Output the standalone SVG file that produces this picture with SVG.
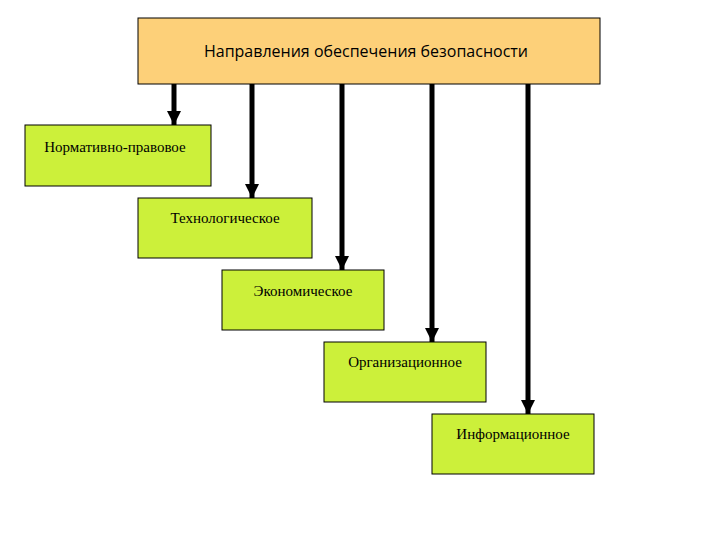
<svg xmlns="http://www.w3.org/2000/svg" width="720" height="540" viewBox="0 0 720 540">
<style>
.n{fill:#CCF03A;stroke:#000;stroke-width:1}
.t{font-family:"Liberation Serif",serif;font-size:15px;fill:#000;text-anchor:middle}
.c line{stroke:#000;stroke-width:5}
</style>
<defs><marker id="a" markerUnits="userSpaceOnUse" markerWidth="16" markerHeight="14" refX="14" refY="7" orient="auto"><path d="M0,0L14,7L0,14z" fill="#000"/></marker></defs>
<rect width="720" height="540" fill="#fff"/>
<g id="top"><rect x="138" y="18" width="462" height="66" fill="#FDD079" stroke="#000"/><text x="366" y="57" font-family="Open Sans,sans-serif" font-size="16" text-anchor="middle">Направления обеспечения безопасности</text></g>
<g class="c">
<line x1="174" y1="84" x2="174" y2="125" marker-end="url(#a)"/>
<line x1="252" y1="84" x2="252" y2="198" marker-end="url(#a)"/>
<line x1="342" y1="84" x2="342" y2="270" marker-end="url(#a)"/>
<line x1="432" y1="84" x2="432" y2="342" marker-end="url(#a)"/>
<line x1="528" y1="84" x2="528" y2="414" marker-end="url(#a)"/>
</g>
<g id="n1"><rect class="n" x="25" y="125" width="186" height="61"/><text class="t" x="115" y="152">Нормативно-правовое</text></g>
<g id="n2"><rect class="n" x="138" y="198" width="174" height="60"/><text class="t" x="225" y="223">Технологическое</text></g>
<g id="n3"><rect class="n" x="222" y="270" width="162" height="60"/><text class="t" x="303" y="296">Экономическое</text></g>
<g id="n4"><rect class="n" x="324" y="342" width="162" height="60"/><text class="t" x="405" y="367">Организационное</text></g>
<g id="n5"><rect class="n" x="432" y="414" width="162" height="60"/><text class="t" x="513" y="439">Информационное</text></g>
</svg>
